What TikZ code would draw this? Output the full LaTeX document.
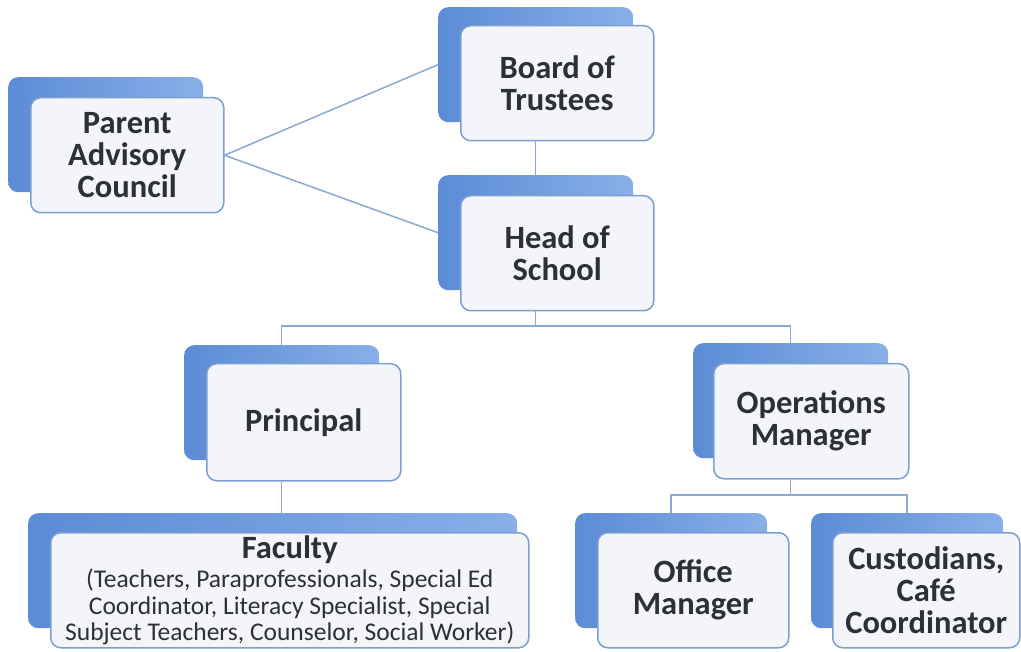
\documentclass[tikz,border=0pt]{standalone}
\usepackage{fontspec}
\setmainfont{Carlito}
\usetikzlibrary{calc}
\definecolor{tabdark}{RGB}{92,140,214}
\definecolor{tablight}{RGB}{136,175,232}
\definecolor{boxline}{RGB}{125,159,208}
\definecolor{boxfill}{RGB}{243,245,249}
\definecolor{linkcol}{RGB}{140,168,212}
\definecolor{txt}{RGB}{45,48,52}
\newcommand{\bigtxt}{\fontsize{32.5}{32}\selectfont\bfseries}
\newcommand{\smalltxt}{\fontsize{25.5}{26.5}\selectfont\mdseries}
\tikzset{
  tabbox/.style={rectangle, rounded corners=10pt, draw=none,
    left color=tabdark, right color=tablight, anchor=north west,
    inner sep=0pt},
  frontbox/.style={rectangle, rounded corners=10pt, draw=boxline,
    line width=1.5pt, fill=boxfill, anchor=north west, align=center,
    text=txt, font=\bigtxt, inner sep=1pt},
  link/.style={draw=linkcol, line width=1.5pt}
}
\begin{document}
\begin{tikzpicture}[x=1pt,y=-1pt]
\useasboundingbox (0,0) rectangle (1021,652);
\fill[white] (0,0) rectangle (1021,652);

% back tabs
\node[tabbox, minimum width=195pt, minimum height=115pt] (pac-t) at (8,77) {};
\node[tabbox, minimum width=195pt, minimum height=115pt] (bot-t) at (438,7) {};
\node[tabbox, minimum width=195pt, minimum height=115pt] (hos-t) at (438,175) {};
\node[tabbox, minimum width=195pt, minimum height=115pt] (pri-t) at (184,345) {};
\node[tabbox, minimum width=195pt, minimum height=115pt] (ops-t) at (693,343) {};
\node[tabbox, minimum width=489pt, minimum height=115pt] (fac-t) at (28,513) {};
\node[tabbox, minimum width=192pt, minimum height=115pt] (off-t) at (575,513) {};
\node[tabbox, minimum width=192pt, minimum height=115pt] (cus-t) at (811,513) {};

% front boxes
\node[frontbox, minimum width=193pt, minimum height=115pt] (pac) at (30,97) {Parent\\Advisory\\Council};
\node[frontbox, minimum width=193pt, minimum height=115pt] (bot) at (460,25) {Board of\\Trustees};
\node[frontbox, minimum width=193pt, minimum height=115pt] (hos) at (460,195) {Head of\\School};
\node[frontbox, minimum width=194pt, minimum height=117pt] (pri) at (206,363) {Principal};
\node[frontbox, minimum width=195pt, minimum height=115pt] (ops) at (713,363) {Operations\\Manager};
\node[frontbox, font=\smalltxt, minimum width=478pt, minimum height=115pt] (fac) at (50,532)
  {{\bigtxt Faculty}\\[3pt](Teachers, Paraprofessionals, Special Ed\\Coordinator, Literacy Specialist, Special\\Subject Teachers, Counselor, Social Worker)};
\node[frontbox, minimum width=191pt, minimum height=115pt] (off) at (597,532) {Office\\Manager};
\node[frontbox, minimum width=187pt, minimum height=115pt] (cus) at (832,532) {Custodians,\\Café\\Coordinator};

% connectors
\coordinate (bus) at (0,326);
\coordinate (sub) at (0,495);
\draw[link] (pac.east) -- (bot-t.west);
\draw[link] (pac.east) -- (hos-t.west);
\draw[link] (bot-t |- bot.south) -- (bot-t |- hos-t.north);
\draw[link] (hos-t |- hos.south) -- (hos-t |- bus);
\draw[link] (pri-t.north) -- (pri-t |- bus) -- (ops-t |- bus) -- (ops-t.north);
\draw[link] (pri-t |- pri.south) -- (pri-t |- fac-t.north);
\draw[link] (ops-t |- ops.south) -- (ops-t |- sub);
\draw[link] (off-t.north) -- (off-t |- sub) -- (cus-t |- sub) -- (cus-t.north);
\end{tikzpicture}
\end{document}
